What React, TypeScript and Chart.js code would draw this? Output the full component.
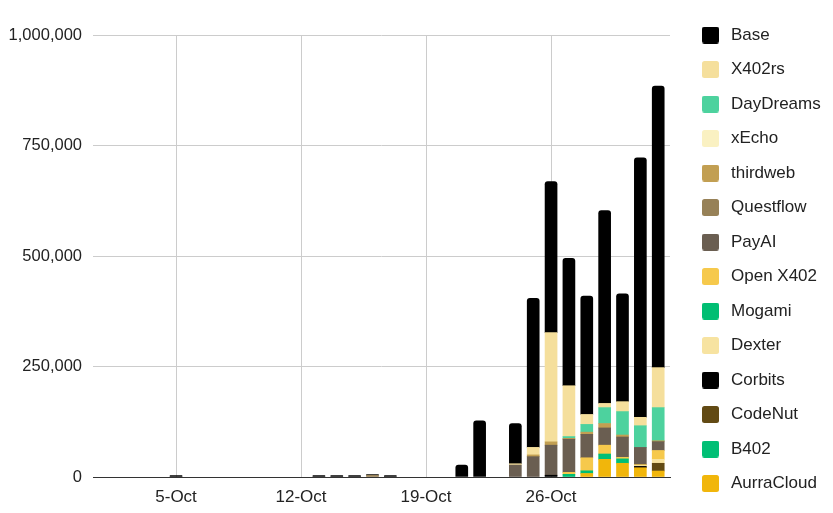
import React, { useEffect, useRef } from 'react';
import { Chart, registerables } from 'chart.js';

Chart.register(...registerables);

// ---- data ----
const categories = [
  '1-Oct', '2-Oct', '3-Oct', '4-Oct', '5-Oct', '6-Oct', '7-Oct', '8-Oct', '9-Oct', '10-Oct',
  '11-Oct', '12-Oct', '13-Oct', '14-Oct', '15-Oct', '16-Oct', '17-Oct', '18-Oct', '19-Oct', '20-Oct',
  '21-Oct', '22-Oct', '23-Oct', '24-Oct', '25-Oct', '26-Oct', '27-Oct', '28-Oct', '29-Oct', '30-Oct',
  '31-Oct', '1-Nov',
];
const xTickLabels = ['5-Oct', '12-Oct', '19-Oct', '26-Oct'];
const yTickValues = [0, 250000, 500000, 750000, 1000000];

// legend order (top of stack first)
const seriesNames = [
  'Base', 'X402rs', 'DayDreams', 'xEcho', 'thirdweb', 'Questflow', 'PayAI',
  'Open X402', 'Mogami', 'Dexter', 'Corbits', 'CodeNut', 'B402', 'AurraCloud',
];
const seriesColors = [
  '#000000', '#F5DF9C', '#4DD29E', '#FAF1C2', '#C29F52', '#978157', '#6A5E51',
  '#F6C94C', '#00BE73', '#F7E3A1', '#000000', '#624A14', '#00BF75', '#F1B60B',
];

const base = [0, 0, 0, 0, 3000, 0, 0, 0, 0, 0, 0, 0, 3000, 3000, 3000, 1500, 3000, 0, 0, 0, 27000, 127000, 0, 91000, 337000, 342000, 288000, 268000, 436000, 244000, 587000, 637000];
const x402rs = [0, 0, 0, 0, 0, 0, 0, 0, 0, 0, 0, 0, 0, 0, 0, 0, 0, 0, 0, 0, 0, 0, 0, 3000, 17000, 247000, 115000, 22500, 9500, 22500, 19000, 90500];
const dayDreams = [0, 0, 0, 0, 0, 0, 0, 0, 0, 0, 0, 0, 0, 0, 0, 0, 0, 0, 0, 0, 0, 0, 0, 0, 0, 0, 4000, 17500, 36000, 53000, 49000, 75000];
const xEcho = [0, 0, 0, 0, 0, 0, 0, 0, 0, 0, 0, 0, 0, 0, 0, 0, 0, 0, 0, 0, 0, 0, 0, 0, 0, 0, 0, 0, 0, 0, 0, 0];
const thirdweb = [0, 0, 0, 0, 0, 0, 0, 0, 0, 0, 0, 0, 0, 0, 0, 0, 0, 0, 0, 0, 0, 0, 0, 0, 4000, 7500, 2000, 5000, 10000, 4500, 0, 2000];
const questflow = [0, 0, 0, 0, 0, 0, 0, 0, 0, 0, 0, 0, 0, 0, 0, 4000, 0, 0, 0, 0, 0, 0, 0, 0, 0, 0, 0, 0, 0, 0, 0, 0];
const payAI = [0, 0, 0, 0, 0, 0, 0, 0, 0, 0, 0, 0, 0, 0, 0, 0, 0, 0, 0, 0, 0, 0, 0, 27000, 46000, 68000, 75000, 53000, 39000, 46000, 39000, 20000];
const openX402 = [0, 0, 0, 0, 0, 0, 0, 0, 0, 0, 0, 0, 0, 0, 0, 0, 0, 0, 0, 0, 0, 0, 0, 0, 0, 0, 4500, 29500, 20000, 3500, 2000, 20000];
const mogami = [0, 0, 0, 0, 0, 0, 0, 0, 0, 0, 0, 0, 0, 0, 0, 0, 0, 0, 0, 0, 0, 0, 0, 0, 0, 0, 6000, 6000, 0, 0, 0, 0];
const dexter = [0, 0, 0, 0, 0, 0, 0, 0, 0, 0, 0, 0, 0, 0, 0, 0, 0, 0, 0, 0, 0, 0, 0, 0, 0, 0, 0, 0, 0, 0, 2000, 9000];
const corbits = [0, 0, 0, 0, 0, 0, 0, 0, 0, 0, 0, 0, 0, 0, 0, 0, 0, 0, 0, 0, 0, 0, 0, 0, 0, 4000, 0, 0, 0, 0, 3000, 0];
const codeNut = [0, 0, 0, 0, 0, 0, 0, 0, 0, 0, 0, 0, 0, 0, 0, 0, 0, 0, 0, 0, 0, 0, 0, 0, 0, 0, 0, 0, 0, 0, 0, 17500];
const b402 = [0, 0, 0, 0, 0, 0, 0, 0, 0, 0, 0, 0, 0, 0, 0, 0, 0, 0, 0, 0, 0, 0, 0, 0, 0, 0, 0, 0, 12000, 10000, 0, 0];
const aurraCloud = [0, 0, 0, 0, 0, 0, 0, 0, 0, 0, 0, 0, 0, 0, 0, 0, 0, 0, 0, 0, 0, 0, 0, 0, 0, 0, 0, 8000, 40000, 31000, 21000, 13500];

const seriesValues = [
  base, x402rs, dayDreams, xEcho, thirdweb, questflow, payAI,
  openX402, mogami, dexter, corbits, codeNut, b402, aurraCloud,
];

const FONT = "'Liberation Sans', Arial, sans-serif";
const W = 833;
const H = 513;

function makeSwatch(color: string): HTMLCanvasElement {
  const c = document.createElement('canvas');
  c.width = 28;
  c.height = 17;
  const ctx = c.getContext('2d')!;
  ctx.fillStyle = color;
  ctx.beginPath();
  if ((ctx as any).roundRect) {
    (ctx as any).roundRect(11, 0, 17, 17, 2.5);
  } else {
    ctx.rect(11, 0, 17, 17);
  }
  ctx.fill();
  return c;
}

export default function App() {
  const ref = useRef<HTMLCanvasElement | null>(null);

  useEffect(() => {
    if (!ref.current) return;

    // stack bottom first: reverse of legend order
    const order = seriesNames.map((_, i) => i).reverse();
    const swatches: HTMLCanvasElement[] = [];
    const datasets = order.map((si) => {
      swatches.push(makeSwatch(seriesColors[si]));
      return {
        label: seriesNames[si],
        data: seriesValues[si].map((v, i) => ({ x: i, y: v === 0 ? null : v })),
        backgroundColor: seriesColors[si],
        borderWidth: 0,
        barThickness: 12,
        borderRadius: si === 0 ? { topLeft: 3, topRight: 3, bottomLeft: 0, bottomRight: 0 } : 0,
        borderSkipped: 'start',
      };
    });

    const legendWidthPlugin = {
      id: 'legendWidth',
      beforeLayout(chart: any) {
        const lg = chart.legend;
        if (lg && !lg.__patched) {
          const orig = lg.fit.bind(lg);
          lg.fit = function () {
            orig();
            this.width = 163;
          };
          lg.__patched = true;
        }
      },
    };

    const chart = new Chart(ref.current, {
      type: 'bar',
      data: { datasets: datasets as any },
      plugins: [legendWidthPlugin],
      options: {
        animation: false,
        responsive: false,
        devicePixelRatio: 1,
        layout: { padding: { top: 9, left: 0, right: 0, bottom: 0 } },
        plugins: {
          tooltip: { enabled: false },
          legend: {
            position: 'right',
            align: 'start',
            reverse: true,
            labels: {
              usePointStyle: true,
              pointStyleWidth: 35,
              padding: 17.5,
              color: '#222222',
              font: { family: FONT, size: 17 },
              generateLabels: (c: any) => {
                const items = (Chart.defaults.plugins.legend.labels as any).generateLabels(c);
                return items.map((it: any) => ({ ...it, pointStyle: swatches[it.datasetIndex] }));
              },
            },
          },
        },
        scales: {
          x: {
            type: 'linear',
            min: -0.65,
            max: 31.66,
            stacked: true,
            offset: false,
            afterBuildTicks: (scale: any) => {
              scale.ticks = xTickLabels.map((l) => ({ value: categories.indexOf(l) }));
            },
            afterFit: (scale: any) => {
              scale.height = 36;
            },
            ticks: {
              autoSkip: false,
              maxRotation: 0,
              padding: 10,
              color: '#222222',
              font: { family: FONT, size: 17 },
              callback: (v: any) => categories[Math.round(Number(v))],
            },
            grid: { color: '#cccccc', drawTicks: false, offset: false },
            border: { display: true, color: '#333333', width: 1 },
          },
          y: {
            type: 'linear',
            min: 0,
            max: 1000000,
            stacked: true,
            afterBuildTicks: (scale: any) => {
              scale.ticks = yTickValues.map((v) => ({ value: v }));
            },
            afterFit: (scale: any) => {
              scale.width = 93;
              scale.paddingTop = 35;
            },
            ticks: {
              padding: 11,
              color: '#222222',
              font: { family: FONT, size: 16.5 },
              callback: (v: any) => Number(v).toLocaleString('en-US'),
            },
            grid: { color: '#cccccc', drawTicks: false },
            border: { display: false },
          },
        },
      } as any,
    });

    return () => chart.destroy();
  }, []);

  return (
    <div style={{ position: 'absolute', left: 0, top: 0, width: W, height: H, background: '#ffffff' }}>
      <canvas ref={ref} width={W} height={H} style={{ display: 'block', width: W, height: H }} />
    </div>
  );
}
